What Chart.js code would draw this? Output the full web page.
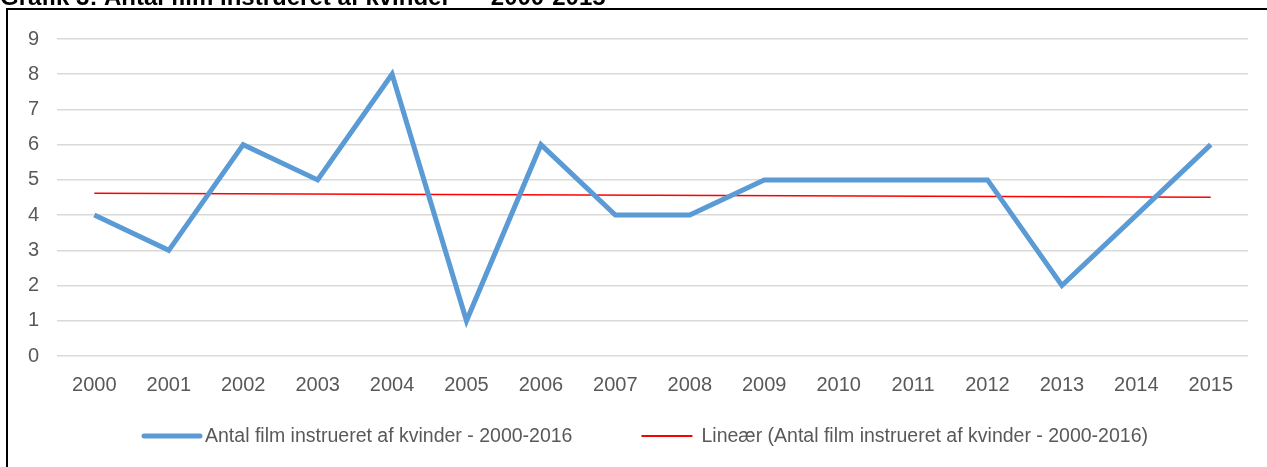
<!DOCTYPE html>
<html>
<head>
<meta charset="utf-8">
<script src="https://cdn.jsdelivr.net/npm/chart.js@4"></script>
<style>
html,body{margin:0;padding:0;background:#fff;}
#wrap{position:relative;width:1267px;height:467px;}
</style>
</head>
<body>
<div id="wrap"><canvas id="c" width="1267" height="467"></canvas></div>
<script>
const years = ['2000','2001','2002','2003','2004','2005','2006','2007','2008','2009','2010','2011','2012','2013','2014','2015'];
const films = [4,3,6,5,8,1,6,4,4,5,5,5,5,2,4,6];
// linear trendline endpoints
const trend = [4.62,null,null,null,null,null,null,null,null,null,null,null,null,null,null,4.51];
const yTicks = [0,1,2,3,4,5,6,7,8,9];
const seriesName = 'Antal film instrueret af kvinder - 2000-2016';
const trendName = 'Lineær (Antal film instrueret af kvinder - 2000-2016)';
const titleText = 'Grafik 3: Antal film instrueret af kvinder  –  2000-2015';

const FONT = '"Liberation Sans", Arial, sans-serif';

const frame = {
  id:'frame',
  afterDraw(chart){
    const ctx = chart.ctx;
    ctx.save();
    // outer frame
    ctx.strokeStyle = '#000';
    ctx.lineWidth = 2;
    ctx.beginPath();
    ctx.moveTo(chart.width, 9);
    ctx.lineTo(7, 9);
    ctx.lineTo(7, chart.height);
    ctx.stroke();
    // clipped title above the frame
    ctx.fillStyle = '#000';
    ctx.font = 'bold 24px ' + FONT;
    ctx.textBaseline = 'alphabetic';
    ctx.fillText(titleText, 0, 5);

    // legend
    const ds = chart.data.datasets;
    const lineW = [56, 51];
    const gapText = [5, 9];
    const itemGap = 69;
    ctx.font = '19.5px ' + FONT;
    const tw = ds.map(d => ctx.measureText(d.label).width);
    let total = 0;
    ds.forEach((d,i)=>{ total += lineW[i] + gapText[i] + tw[i]; });
    total += itemGap;
    let x = 646 - total/2;
    const y = 436;
    ctx.textBaseline = 'middle';
    ds.forEach((d,i)=>{
      ctx.strokeStyle = d.borderColor;
      ctx.lineWidth = i===0 ? 5 : 2;
      ctx.lineCap = i===0 ? 'round' : 'butt';
      ctx.beginPath();
      ctx.moveTo(x, y); ctx.lineTo(x + lineW[i], y); ctx.stroke();
      x += lineW[i] + gapText[i];
      ctx.fillStyle = '#595959';
      ctx.fillText(d.label, x, y + 1);
      x += tw[i] + itemGap;
    });
    ctx.restore();
  }
};

new Chart(document.getElementById('c'), {
  type:'line',
  data:{
    labels: years,
    datasets:[
      {label: seriesName, data: films, borderColor:'#5B9BD5', backgroundColor:'#5B9BD5', borderWidth:5, pointRadius:0, tension:0, borderJoinStyle:'miter'},
      {label: trendName, data: trend, borderColor:'#FF0000', backgroundColor:'#FF0000', borderWidth:1.5, pointRadius:0, spanGaps:true}
    ]
  },
  options:{
    responsive:false,
    animation:false,
    layout:{padding:{left:10, right:19, top:39, bottom:53}},
    plugins:{
      legend:{display:false},
      tooltip:{enabled:false}
    },
    scales:{
      x:{
        offset:true,
        grid:{display:false, drawTicks:false},
        border:{display:false},
        ticks:{color:'#595959', padding:17, maxRotation:0, font:{family:FONT, size:20}}
      },
      y:{
        min:0, max:9,
        afterBuildTicks(s){ s.ticks = yTicks.map(v=>({value:v})); },
        grid:{color:'#d9d9d9', lineWidth:1.5, drawTicks:false},
        border:{display:false},
        ticks:{color:'#595959', padding:18, font:{family:FONT, size:20}}
      }
    }
  },
  plugins:[frame]
});
</script>
</body>
</html>
